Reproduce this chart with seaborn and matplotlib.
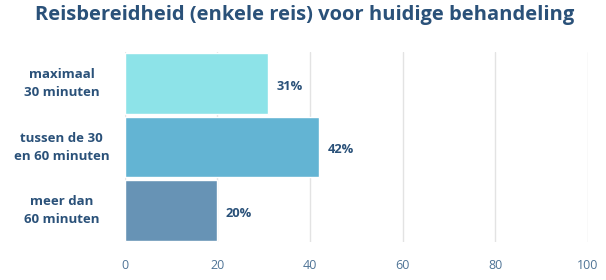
import matplotlib
matplotlib.use("Agg")
import matplotlib.pyplot as plt
import matplotlib.transforms as mtransforms
import seaborn as sns
import pandas as pd

categories = ["maximaal\n30 minuten", "tussen de 30\nen 60 minuten", "meer dan\n60 minuten"]
values = [31, 42, 20]
colors = ["#8de3e8", "#63b4d3", "#6793b5"]

sns.set_style("white")
plt.rcParams['font.family'] = ['Open Sans', 'DejaVu Sans']

df = pd.DataFrame({"cat": categories, "val": values})

fig = plt.figure(figsize=(6.06, 2.8), dpi=100)
ax = fig.add_axes([0.206, 0.136, 0.764, 0.678])

sns.barplot(data=df, x="val", y="cat", hue="cat", palette=colors, legend=False,
            width=0.96, saturation=1, ax=ax, zorder=2)

ax.set_xlim(0, 100)
ax.set_xticks([0, 20, 40, 60, 80, 100])
ax.grid(axis="x", color="#e3e3e3", linewidth=1, zorder=0)
ax.set_axisbelow(True)
for s in ax.spines.values():
    s.set_visible(False)
ax.set_xlabel("")
ax.set_ylabel("")
ax.tick_params(axis="x", length=0, pad=12, labelsize=9, labelcolor="#4f7496")
ax.set_yticklabels([])
ax.tick_params(axis="y", length=0)

# category labels centred in the left margin
trans = mtransforms.blended_transform_factory(fig.transFigure, ax.transData)
for i, c in enumerate(categories):
    ax.text(0.102, i, c, transform=trans, ha="center", va="center",
            fontsize=9.5, fontweight="bold", color="#2a5179", linespacing=1.5)

# value labels just right of each bar
for i, v in enumerate(values):
    ax.annotate(f"{v}%", (v, i), xytext=(6, -2), textcoords="offset points",
                va="center", ha="left", fontsize=9.3,
                fontweight="bold", color="#2a5179")

fig.text(0.503, 0.948, "Reisbereidheid (enkele reis) voor huidige behandeling",
         ha="center", va="center", fontsize=14.5, fontweight="bold", color="#2a5179")

fig.savefig("out.png", dpi=100)
